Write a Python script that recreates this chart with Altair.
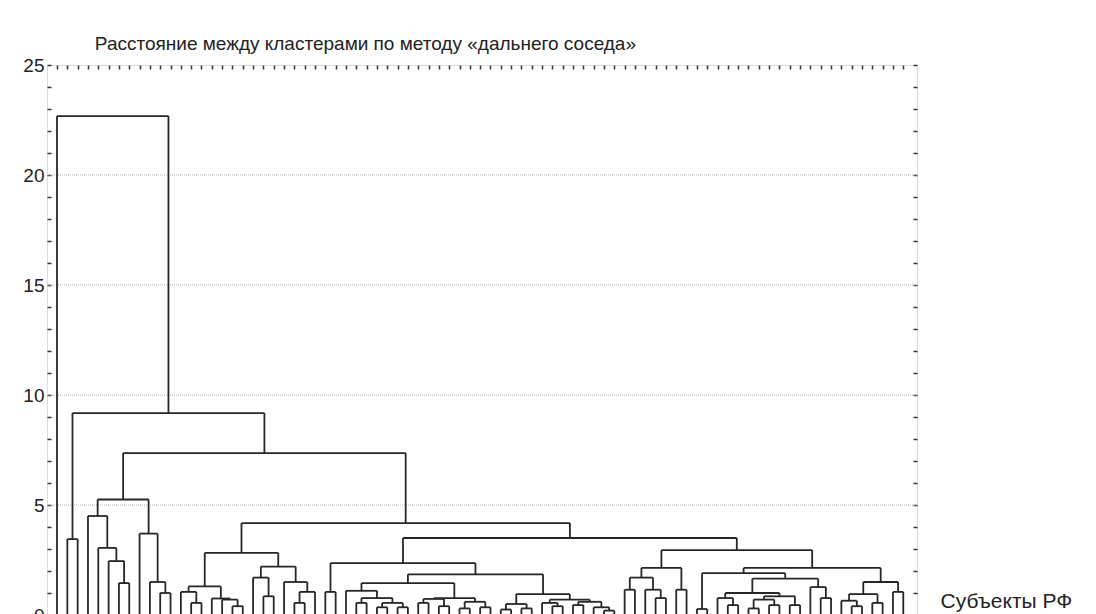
import altair as alt
import pandas as pd

# ---------------- data ----------------
title_text = "Расстояние между кластерами по методу «дальнего соседа»"
x_title = "Субъекты РФ"
n_leaves = 83
y_ticks = list(range(0, 26))
grid_values = [5, 10, 15, 20]

# merges: children are leaf numbers (int) or names of earlier merges
merge_name = [
    "A1", "A2", "A3", "A4", "B1", "B2", "B3", "C5", "P23",
    "D1", "D2", "D3", "D4", "D5", "D6", "E1", "E2", "E3", "E4", "E5", "E6", "D7",
    "F1", "G1", "G2", "G3", "G4", "G5", "G6", "H1", "H2", "H3", "H4", "H5", "H6", "H7", "G7",
    "I1", "I2", "I3", "J1", "J2", "J3", "J4", "J5", "J6", "J7", "I4", "K1", "F2",
    "L1", "L2", "L3", "L4", "L5", "L6",
    "M1", "M2", "M3", "M4", "M5", "M6", "M7", "M8", "M9", "M10", "M11", "M12", "M13",
    "O1", "O2", "O3", "O4", "O5", "O6", "M14",
    "NT", "F3", "Q", "R", "S", "ROOT",
]
merge_left = [
    7, 6, 5, 4, 11, 10, 9, "A4", 2,
    14, 13, 18, 17, 16, "D2", 21, 20, 24, "E3", 23, "E2", "D6",
    27, 30, 32, 34, "G2", "G1", 29, 36, 38, "H1", 40, 42, "H4", "H3", "G6",
    44, 46, "I1", 49, 48, 51, 54, 53, "J3", "J2", "I3", "G7", "F1",
    56, 59, 58, "L1", 61, "L4",
    63, 66, 65, 68, 70, "M4", 72, "M6", "M3", 75, 74, "M9", "M1",
    78, 77, 80, "O2", 82, "O4", "M13",
    "L6", "F2", "D7", "C5", "P23", 1,
]
merge_right = [
    8, "A1", "A2", "A3", 12, "B1", "B2", "B3", 3,
    15, "D1", 19, "D3", "D4", "D5", 22, "E1", 25, 26, "E4", "E5", "E6",
    28, 31, 33, 35, "G3", "G4", "G5", 37, 39, "H2", 41, 43, "H5", "H6", "H7",
    45, 47, "I2", 50, "J1", 52, 55, "J4", "J5", "J6", "J7", "I4", "K1",
    57, 60, "L2", "L3", 62, "L5",
    64, 67, "M2", 69, 71, "M5", 73, "M7", "M8", 76, "M10", "M11", "M12",
    79, "O1", 81, "O3", 83, "O5", "O6",
    "M14", "NT", "F3", "Q", "R", "S",
]
merge_height = [
    1.45, 2.45, 3.05, 4.5, 1.0, 1.5, 3.7, 5.25, 3.45,
    0.55, 1.05, 0.4, 0.7, 0.75, 1.3, 0.85, 1.7, 0.55, 1.05, 1.5, 2.2, 2.82,
    1.05, 0.55, 0.35, 0.35, 0.55, 0.77, 1.1, 0.55, 0.4, 0.73, 0.3, 0.35, 0.6, 0.77, 1.45,
    0.25, 0.3, 0.5, 0.4, 0.55, 0.45, 0.2, 0.35, 0.6, 0.7, 0.95, 1.85, 2.36,
    1.15, 0.77, 1.15, 1.7, 1.15, 2.14,
    0.27, 0.45, 0.77, 0.3, 0.45, 0.7, 0.45, 0.85, 1.0, 0.77, 1.27, 1.65, 1.9,
    0.4, 0.65, 0.55, 0.95, 1.05, 1.5, 2.14,
    2.95, 3.5, 4.18, 7.36, 9.18, 22.68,
]

# ---------------- dendrogram segments ----------------
pos = {}
hgt = {}


def node_xy(c):
    if isinstance(c, int):
        return float(c), 0.0
    return pos[c], hgt[c]


rows = []
for name, lc, rc, h in zip(merge_name, merge_left, merge_right, merge_height):
    xl, hl = node_xy(lc)
    xr, hr = node_xy(rc)
    pos[name] = (xl + xr) / 2.0
    hgt[name] = h
    rows.append({"x": xl, "x2": xr, "y": h, "y2": h})
    rows.append({"x": xl, "x2": xl, "y": hl, "y2": h})
    rows.append({"x": xr, "x2": xr, "y": hr, "y2": h})

seg = pd.DataFrame(rows)
grid_df = pd.DataFrame({"g": grid_values})

W, H = 870, 550
FONT = "Liberation Sans"
xscale = alt.Scale(domain=[0.03, 84.33], nice=False, zero=False)
yscale = alt.Scale(domain=[0, 25], nice=False, zero=True)

grid = alt.Chart(grid_df).mark_rule(
    color="#b5b5b5", strokeWidth=1, strokeDash=[1, 1]
).encode(
    y=alt.Y(
        "g:Q",
        scale=yscale,
        axis=alt.Axis(
            orient="left", offset=-W, values=y_ticks, tickSize=4, tickWidth=1.5,
            tickColor="#333333", labels=False, domain=False, grid=False, title=None,
        ),
    ),
)

lines = alt.Chart(seg).mark_rule(color="#262626", strokeWidth=1.8).encode(
    x=alt.X(
        "x:Q",
        scale=xscale,
        axis=alt.Axis(
            orient="bottom", offset=-H, values=list(range(1, n_leaves + 1)),
            tickSize=4, tickWidth=1.5, tickColor="#333333", labels=False,
            domain=False, grid=False, title=x_title, titleX=893, titleY=536,
            titleAlign="left", titleBaseline="middle", titleAngle=0,
            titleFont=FONT, titleFontSize=21, titleFontWeight="normal",
            titleColor="#222222",
        ),
    ),
    x2="x2:Q",
    y=alt.Y(
        "y:Q",
        scale=yscale,
        axis=alt.Axis(
            orient="right", offset=-W, values=y_ticks, tickSize=4, tickWidth=1.5,
            tickColor="#333333",
            labelExpr="datum.value % 5 == 0 ? datum.label : ''",
            labelAlign="right", labelPadding=-7, labelFont=FONT,
            labelFontSize=19, labelColor="#222222", labelBaseline="middle",
            domain=False, grid=False, title=None,
        ),
    ),
    y2="y2:Q",
)

chart = (
    alt.layer(grid, lines)
    .resolve_scale(y="independent")
    .resolve_axis(y="independent")
    .properties(
        width=W,
        height=H,
        autosize=alt.AutoSizeParams(type="none"),
        padding={"left": 39, "top": 57, "right": 171, "bottom": 0},
        title=alt.TitleParams(
            text=title_text, anchor="start", dx=72, offset=2, fontSize=19,
            font=FONT, fontWeight="normal", color="#222222",
        ),
    )
    .configure_view(stroke="#333333", strokeWidth=1.5)
    .configure(background="white")
)

chart.save("out.html", embed_options={"renderer": "svg", "actions": False})
